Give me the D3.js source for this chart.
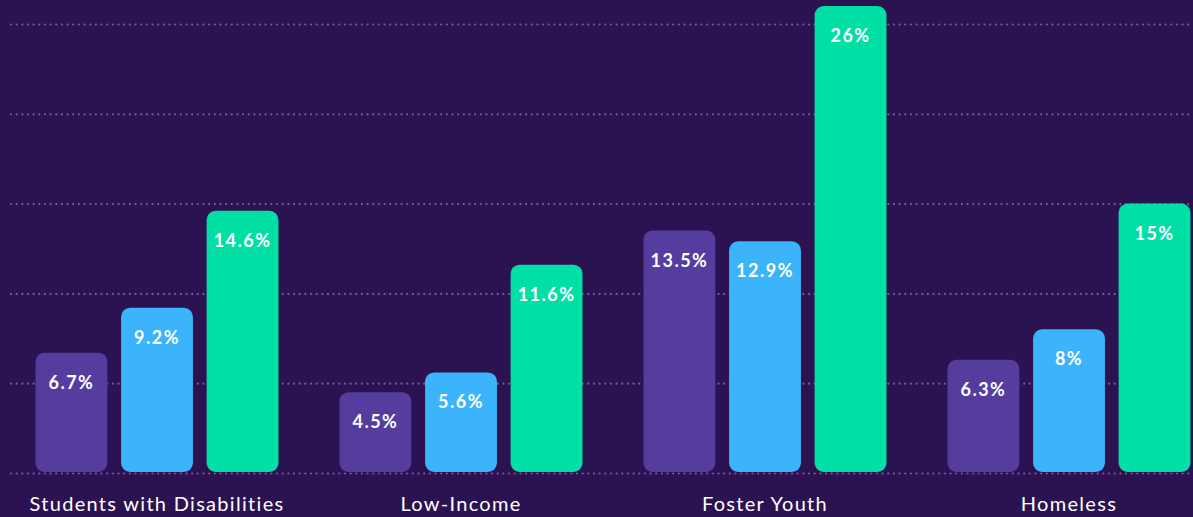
<!DOCTYPE html>
<html lang="en">
	<head>
		<meta charset="utf-8">
		<title>grouped bars</title>
		<script src="https://d3js.org/d3.v7.min.js"></script>
		<style>
			html, body { margin: 0; padding: 0; background: #2b1250; }
			svg { display: block; }
		</style>
	</head>

	<body>
		<script type="text/javascript">

			// data
			var categories = ["Students with Disabilities", "Low-Income", "Foster Youth", "Homeless"]
			var seriesNames = ["a", "b", "c"]
			var valuesA = [6.7, 4.5, 13.5, 6.3]
			var valuesB = [9.2, 5.6, 12.9, 8]
			var valuesC = [14.6, 11.6, 26, 15]
			var gridTicks = [0, 5, 10, 15, 20, 25]
			var colors = ["#553d9f", "#3bb4fb", "#00e0a4"]

			// window setup
			var w = 1193
			var h = 517

			var svg = d3.select("body")
						.append("svg")
						.attr("width", w)
						.attr("height", h)

			svg.append("rect")
				.attr("width", w)
				.attr("height", h)
				.attr("fill", "#2b1250")

			// scales
			var x0 = d3.scaleBand()
						.domain(categories)
						.range([5, 1221])
						.padding(0)

			var x1 = d3.scaleBand()
						.domain(seriesNames)
						.range([-121.5, 121.5])
						.paddingInner(0.16)
						.paddingOuter(0)

			var y = d3.scaleLinear()
						.domain([0, 25])
						.range([473, 24])

			// dotted grid
			svg.append("g")
				.selectAll("line")
				.data(gridTicks)
				.enter()
				.append("line")
				.attr("x1", 11)
				.attr("x2", w)
				.attr("y1", function(d){ return y(d) + 0.5 })
				.attr("y2", function(d){ return y(d) + 0.5 })
				.attr("stroke", "#74609c")
				.attr("stroke-width", 2.2)
				.attr("stroke-linecap", "round")
				.attr("stroke-dasharray", "0.01 5.65")

			// flatten into one row per bar
			var rows = []
			categories.forEach(function(c, i){
				[valuesA, valuesB, valuesC].forEach(function(vals, j){
					rows.push({cat: c, s: seriesNames[j], v: vals[i], color: colors[j]})
				})
			})

			var fmt = function(v){ return v + "%" }

			var groups = svg.selectAll("g.bar")
							.data(rows)
							.enter()
							.append("g")
							.attr("class", "bar")
							.attr("transform", function(d){
								return "translate(" + (x0(d.cat) + x0.bandwidth()/2 + x1(d.s)) + ",0)"
							})

			groups.append("rect")
				.attr("x", 0)
				.attr("y", function(d){ return y(d.v) })
				.attr("width", x1.bandwidth())
				.attr("height", function(d){ return y(0) - 1 - y(d.v) })
				.attr("rx", 9)
				.attr("fill", function(d){ return d.color })

			groups.append("text")
				.attr("x", x1.bandwidth()/2)
				.attr("y", function(d){ return y(d.v) + 36 })
				.attr("text-anchor", "middle")
				.attr("fill", "#ffffff")
				.style("font-family", "Lato, 'Open Sans', sans-serif")
				.style("font-weight", "bold")
				.style("font-size", "18px")
				.style("letter-spacing", "1.5px")
				.text(function(d){ return fmt(d.v) })

			// category labels
			svg.selectAll("text.cat")
				.data(categories)
				.enter()
				.append("text")
				.attr("class", "cat")
				.attr("x", function(d){ return x0(d) + x0.bandwidth()/2 })
				.attr("y", 511)
				.attr("text-anchor", "middle")
				.attr("fill", "#ffffff")
				.style("font-family", "Lato, 'Open Sans', sans-serif")
				.style("font-size", "20px")
				.style("letter-spacing", "1.3px")
				.text(function(d){ return d })

		</script>
	</body>
</html>
